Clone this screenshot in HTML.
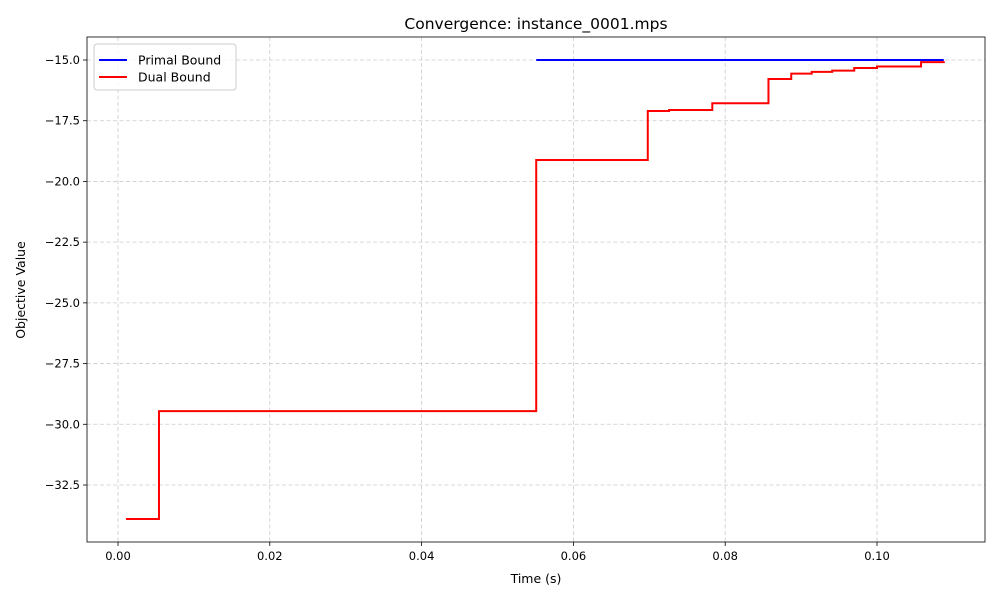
<!DOCTYPE html>
<html><head><meta charset="utf-8"><style>
body{margin:0;background:#fff;font-family:"Liberation Sans","DejaVu Sans",sans-serif}
svg text{font-family:"DejaVu Sans","Liberation Sans",sans-serif}
</style></head><body>
<svg id="c" width="1000" height="600" xmlns="http://www.w3.org/2000/svg"></svg>
<script>
const dualTimes=[0.00105,0.0054,0.0551,0.0698,0.0726,0.0783,0.0857,0.0887,0.0914,0.0941,0.0970,0.1000,0.1058,0.1088];
const dualValues=[-33.9,-29.46,-19.12,-17.1,-17.06,-16.78,-15.78,-15.56,-15.49,-15.44,-15.33,-15.27,-15.09,-15.05];
const primalTimes=[0.0551,0.1088];
const primalValues=[-15.0,-15.0];
const xTicks=[0,0.02,0.04,0.06,0.08,0.10];
const xTickLabels=["0.00","0.02","0.04","0.06","0.08","0.10"];
const yTicks=[-15,-17.5,-20,-22.5,-25,-27.5,-30,-32.5];
const yTickLabels=["−15.0","−17.5","−20.0","−22.5","−25.0","−27.5","−30.0","−32.5"];

const L=87,R=985,T=37,B=542;
const X=t=>118+(t-0)*(877-118)/0.1;
const Y=v=>60+(-15-v)*(485-60)/17.5;
const svg=document.getElementById('c');
const NS='http://www.w3.org/2000/svg';
function mk(tag,attrs,parent){const e=document.createElementNS(NS,tag);for(const k in attrs)e.setAttribute(k,attrs[k]);(parent||svg).appendChild(e);return e;}

const grid=mk('g',{});


xTicks.forEach((t,i)=>{
  const x=X(t);
  const g=mk('line',{x1:x,x2:x,y1:T,y2:B,stroke:'#ccc','stroke-dasharray':'4,2.5','stroke-width':0.8},grid);
  
  
  const tk=mk('line',{x1:x,x2:x,y1:B,y2:B+4,stroke:'#000','stroke-width':0.8});
  
  
  const tx=mk('text',{x:x,y:B+18,'font-size':11.5,'text-anchor':'middle'});
  tx.textContent=xTickLabels[i];
  
  
});
yTicks.forEach((v,i)=>{
  const y=Y(v);
  const g=mk('line',{x1:L,x2:R,y1:y,y2:y,stroke:'#ccc','stroke-dasharray':'4,2.5','stroke-width':0.8},grid);
  
  
  const tk=mk('line',{x1:L-4,x2:L,y1:y,y2:y,stroke:'#000','stroke-width':0.8});
  
  
  const tx=mk('text',{x:L-7,y:y+4,'font-size':11.5,'text-anchor':'end'});
  tx.textContent=yTickLabels[i];
  
  
});

function stepPath(ts,vs){let d='M'+X(ts[0])+','+Y(vs[0]);for(let i=1;i<ts.length;i++){d+=' H'+X(ts[i])+' V'+Y(vs[i]);}return d;}
const pp=mk('path',{d:stepPath(primalTimes,primalValues),fill:'none',stroke:'#0000ff','stroke-width':2});


const dp=mk('path',{d:stepPath(dualTimes,dualValues),fill:'none',stroke:'#ff0000','stroke-width':2});



const fr=mk('rect',{x:L,y:T,width:R-L,height:B-T,fill:'none',stroke:'#000','stroke-width':0.8});



const ti=mk('text',{x:(L+R)/2,y:29,'font-size':15.5,'text-anchor':'middle'});
ti.textContent='Convergence: instance_0001.mps';


const xl=mk('text',{x:(L+R)/2,y:583,'font-size':12.5,'text-anchor':'middle'});
xl.textContent='Time (s)';


const yl=mk('text',{x:0,y:0,'font-size':12.5,'text-anchor':'middle',transform:'translate(25,290) rotate(-90)'});
yl.textContent='Objective Value';



const lg=mk('g',{});


mk('rect',{x:94,y:44,width:142,height:46,rx:3,fill:'#fff','fill-opacity':0.8,stroke:'#ccc'},lg);
[['Primal Bound','#0000ff',60],['Dual Bound','#ff0000',77]].forEach(([n,c,y])=>{
  const e=mk('g',{},lg);
  
  
  mk('line',{x1:99,x2:127,y1:y,y2:y,stroke:c,'stroke-width':2},e);
  const t=mk('text',{x:138,y:y+4.5,'font-size':12.5},e);
  t.textContent=n;
});
</script>
</body></html>
